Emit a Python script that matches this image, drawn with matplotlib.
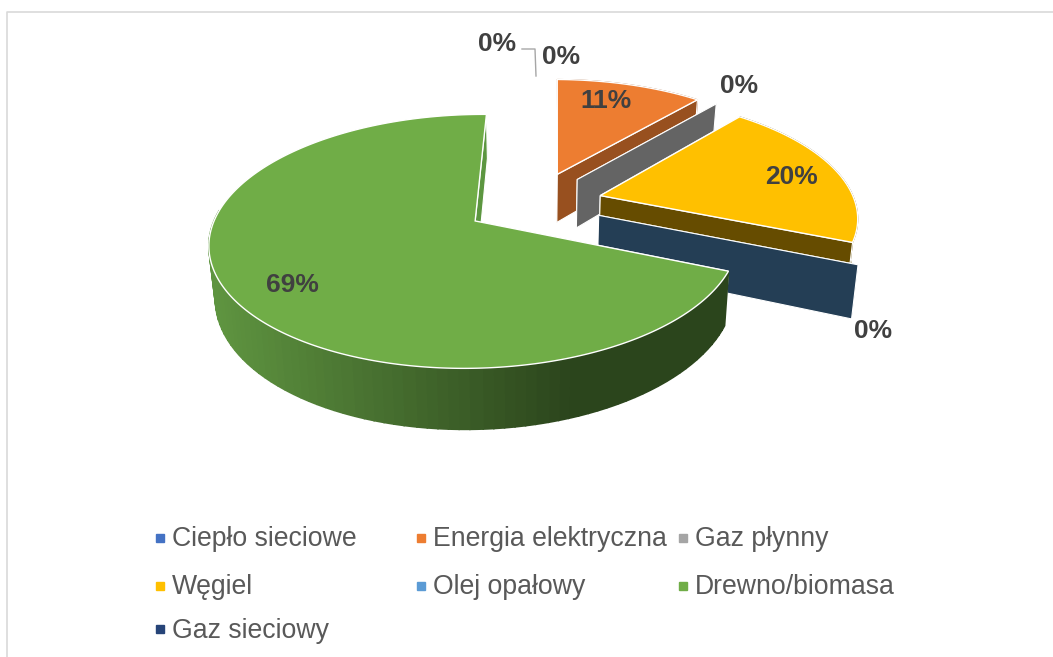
import numpy as np
import matplotlib
matplotlib.use("Agg")
import matplotlib.pyplot as plt
from matplotlib.patches import Polygon

plt.rcParams['font.family'] = ['Liberation Sans', 'DejaVu Sans']

# data
categories = ['Ciepło sieciowe', 'Energia elektryczna', 'Gaz płynny', 'Węgiel',
              'Olej opałowy', 'Drewno/biomasa', 'Gaz sieciowy']
values = [0, 11, 0, 20, 0, 69, 0]
pct_labels = ['0%', '11%', '0%', '20%', '0%', '69%', '0%']
top_colors = ['#4472C4', '#ED7D31', '#A5A5A5', '#FFC000', '#5B9BD5', '#70AD47', '#264478']
wall_colors = ['#FFFFFF', '#98501F', '#646464', '#664C00', '#243E55', '#5C9640', '#FFFFFF']

# projection of the tilted pie, all in image pixels
cx, cy = 534, 203
a, k, p = 255, 118, 0.157
explode = 0.27
depth = 50
shrink = 0.98
first_angle = 0.8

left_green = (0.37, 0.58, 0.25)
right_green = (0.17, 0.27, 0.11)


def project(u, t):
    w = 1 - p * t
    return cx + a * u / w, cy + k * t / w


def lower(x, y, t):
    w = 1 - p * t
    return cx + (x - cx) * shrink, y + depth / w


def slice_points(th1, th2):
    # top outline of one exploded slice, angles in degrees clockwise from north
    mid = np.radians((th1 + th2) / 2)
    u0, t0 = explode * np.sin(mid), -explode * np.cos(mid)
    th = np.radians(np.linspace(th1, th2, max(2, int(abs(th2 - th1) * 2))))
    return u0, t0, u0 + np.sin(th), t0 - np.cos(th)


def wall(ax, us, ts, color, z, lw=0.8, ec='white'):
    x, y = project(us, ts)
    xb, yb = lower(x, y, ts)
    pts = np.column_stack([np.r_[x, xb[::-1]], np.r_[y, yb[::-1]]])
    ax.add_patch(Polygon(pts, closed=True, fc=color, ec=ec, lw=lw, zorder=z))


def draw_slice(ax, i, th1, th2, z):
    u0, t0, us, ts = slice_points(th1, th2)
    # outer wall goes first, the cut faces lie over it
    if th2 > th1:
        if i == 5:
            # outer wall of the big slice gets lighter to the left
            ends = np.linspace(0, len(us) - 1, 120).astype(int)
            for n in range(len(ends) - 1):
                s = slice(ends[n], ends[n + 1] + 1)
                # the back of the rim is hidden anyway
                if ts[s].mean() - t0 < -0.1:
                    continue
                xm = project(us[s], ts[s])[0].mean()
                f = np.clip((xm - 215) / (570 - 215), 0, 1)
                c = (1 - f) * np.array(left_green) + f * np.array(right_green)
                wall(ax, us[s], ts[s], c, z + 0.2, lw=1.2, ec=c)
        else:
            wall(ax, us, ts, wall_colors[i], z, ec=wall_colors[i])
    wall(ax, np.array([u0, us[0]]), np.array([t0, ts[0]]), wall_colors[i], z + 0.05)
    wall(ax, np.array([u0, us[-1]]), np.array([t0, ts[-1]]), wall_colors[i], z + 0.1)
    if th2 > th1:
        x, y = project(np.r_[u0, us], np.r_[t0, ts])
        ax.add_patch(Polygon(np.column_stack([x, y]), closed=True, fc=top_colors[i],
                             ec='white', lw=1.0, zorder=z + 0.3))


fig = plt.figure(figsize=(10.53, 6.57), dpi=100)
ax = fig.add_axes([0, 0, 1, 1])
ax.set_xlim(0, 1053)
ax.set_ylim(657, 0)
ax.axis('off')

# chart frame
ax.plot([7, 7, 1053], [657, 12, 12], color='#D9D9D9', lw=1.2)

# slice angles from the values
edges = np.cumsum([0] + values) * 3.6 + first_angle
order = [1, 2, 3, 4, 5]
for z, i in enumerate(order):
    draw_slice(ax, i, edges[i], edges[i + 1], 2 + z)

# data labels
label_pos = [(497, 44), (606, 101), (739, 86), (792, 177), (873, 331), (292, 285), (561, 57)]
for txt, (x, y) in zip(pct_labels, label_pos):
    ax.text(x, y, txt, ha='center', va='center', fontsize=19, fontweight='bold',
            color='#404040', zorder=20)
ax.plot([522, 535, 536], [49, 49, 76], color='#A6A6A6', lw=1.0, zorder=20)

# legend
leg_pos = {0: (160, 538), 1: (421, 538), 2: (683, 538),
           3: (160, 586), 4: (421, 586), 5: (683, 586),
           6: (160, 629)}
for i, name in enumerate(categories):
    x, y = leg_pos[i]
    ax.plot([x], [y], marker='s', ms=5.5, color=top_colors[i], ls='none')
    ax.text(x + 12, y + 1.5, name, ha='left', va='center', fontsize=19.2, color='#595959')

fig.savefig('out.png', dpi=100)
